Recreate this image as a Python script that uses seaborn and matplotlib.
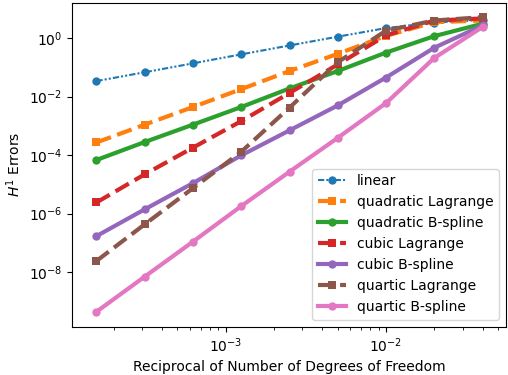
import matplotlib
matplotlib.use("Agg")
import matplotlib.pyplot as plt
import seaborn as sns
import numpy as np
import pandas as pd

# Reciprocal of number of degrees of freedom
h = [1.5625e-4, 3.125e-4, 6.25e-4, 1.25e-3, 2.5e-3, 5e-3, 1e-2, 2e-2, 4e-2]

linear = [0.034, 0.068, 0.137, 0.278, 0.56, 1.12, 2.2, 3.4, 4.2]
quad_lagrange = [2.7e-4, 1.1e-3, 4.4e-3, 1.8e-2, 0.075, 0.29, 1.2, 3.5, 4.0]
quad_bspline = [6.8e-5, 2.8e-4, 1.1e-3, 4.4e-3, 1.9e-2, 0.075, 0.32, 1.17, 3.1]
cubic_lagrange = [2.4e-6, 2.2e-5, 1.8e-4, 1.45e-3, 1.33e-2, 0.126, 1.23, 4.0, 4.7]
cubic_bspline = [1.7e-7, 1.4e-6, 1.1e-5, 9.8e-5, 7e-4, 5e-3, 0.045, 0.47, 2.7]
quartic_lagrange = [2.4e-8, 4.3e-7, 7.4e-6, 1.3e-4, 4.2e-3, 0.15, 1.8, 4.0, 5.2]
quartic_bspline = [4.4e-10, 7e-9, 1.1e-7, 1.8e-6, 2.7e-5, 3.9e-4, 6e-3, 0.21, 2.4]

labels = ["linear", "quadratic Lagrange", "quadratic B-spline", "cubic Lagrange",
          "cubic B-spline", "quartic Lagrange", "quartic B-spline"]
series = [linear, quad_lagrange, quad_bspline, cubic_lagrange,
          cubic_bspline, quartic_lagrange, quartic_bspline]

styles = [
    dict(ls=(0, (3, 1, 1, 1, 1, 1)), lw=1.5, marker="o", ms=6),
    dict(ls="--", lw=3, marker="s", ms=6),
    dict(ls="-", lw=3, marker="o", ms=6),
    dict(ls="--", lw=3, marker="s", ms=6),
    dict(ls="-", lw=3, marker="o", ms=6),
    dict(ls="--", lw=3, marker="s", ms=6),
    dict(ls="-", lw=3, marker="o", ms=6),
]
colors = sns.color_palette("tab10")

fig = plt.figure(figsize=(5.08, 3.75), dpi=100)
ax = fig.add_axes([72/508, 1-326.5/375, (506-72)/508, (326.5-2.5)/375])

for i, (lab, vals, st) in enumerate(zip(labels, series, styles)):
    df = pd.DataFrame({"h": h, "err": vals})
    sns.lineplot(data=df, x="h", y="err", ax=ax, color=colors[i], label=lab,
                 linestyle=st["ls"], linewidth=st["lw"], marker=st["marker"],
                 markersize=st["ms"], markeredgewidth=0)

ax.set_xscale("log")
ax.set_yscale("log")
ax.set_xlim(1.1e-4, 5.6e-2)
ax.set_ylim(1.38e-10, 16.5)
ax.set_yticks([1e-8, 1e-6, 1e-4, 1e-2, 1e0])
ax.set_xlabel("Reciprocal of Number of Degrees of Freedom")
ax.set_ylabel("$H^1$ Errors")
ax.legend(loc="lower right")

fig.savefig("out.png", dpi=100)
